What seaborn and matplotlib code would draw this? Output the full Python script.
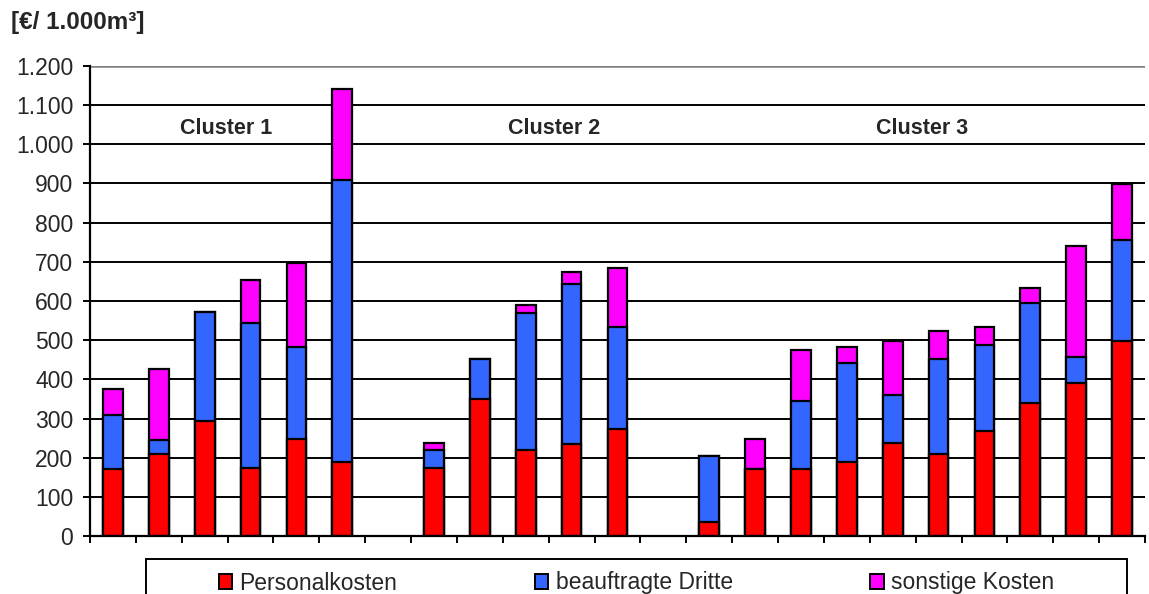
import pandas as pd
import matplotlib.pyplot as plt
import seaborn as sns
from matplotlib.patches import Rectangle, Patch
from matplotlib.ticker import FuncFormatter

sns.set_style("white")
plt.rcParams['font.family'] = ['Liberation Sans', 'DejaVu Sans']

# Werte je Cluster [€/1.000m³]
c1_personal = [170, 210, 293, 174, 247, 190]
c1_dritte = [138, 36, 279, 370, 235, 720]
c1_sonstige = [67, 181, 0, 109, 216, 231]

c2_personal = [174, 349, 220, 236, 272]
c2_dritte = [46, 103, 350, 407, 262]
c2_sonstige = [17, 0, 21, 30, 149]

c3_personal = [36, 170, 170, 190, 237, 210, 267, 340, 390, 499]
c3_dritte = [169, 0, 175, 251, 123, 242, 221, 256, 67, 257]
c3_sonstige = [0, 77, 129, 41, 139, 72, 46, 36, 283, 142]

cluster_names = ['Cluster 1', 'Cluster 2', 'Cluster 3']
serien = ['Personalkosten', 'beauftragte Dritte', 'sonstige Kosten']
farben = ['#FF0000', '#3366FF', '#FF00FF']

# Slots: Cluster 1, Lücke, Cluster 2, Lücke, Cluster 3
cluster_data = [
    (c1_personal, c1_dritte, c1_sonstige),
    (c2_personal, c2_dritte, c2_sonstige),
    (c3_personal, c3_dritte, c3_sonstige),
]
rows = []
slot = 0
order = []
for i, (p, d, s) in enumerate(cluster_data):
    for k in range(len(p)):
        rows.append({'slot': str(slot), 'cluster': cluster_names[i],
                     'Personalkosten': p[k], 'beauftragte Dritte': d[k],
                     'sonstige Kosten': s[k]})
        order.append(str(slot))
        slot += 1
    if i < len(cluster_data) - 1:
        order.append(str(slot))  # leerer Platz
        slot += 1
df = pd.DataFrame(rows)
df['h1'] = df['Personalkosten']
df['h2'] = df['h1'] + df['beauftragte Dritte']
df['h3'] = df['h2'] + df['sonstige Kosten']

fig = plt.figure(figsize=(11.49, 5.94), dpi=100)
ax = fig.add_axes([90 / 1149, 1 - 536 / 594, 1055 / 1149, 470 / 594])

# Gitterlinien
for v in range(100, 1200, 100):
    ax.axhline(v, color='black', lw=1.4, zorder=0)
ax.axhline(1200, color='#808080', lw=1.8, zorder=0)

# gestapelte Balken (von hinten nach vorne)
for col, farbe in zip(['h3', 'h2', 'h1'], farben[::-1]):
    sns.barplot(data=df, x='slot', y=col, order=order, color=farbe,
                saturation=1, errorbar=None, width=0.43,
                edgecolor='black', linewidth=1.6, ax=ax, zorder=2)

ax.set_xlim(-0.5, len(order) - 0.5)
ax.set_ylim(0, 1200)
ax.set_yticks(range(0, 1201, 100))
ax.yaxis.set_major_formatter(FuncFormatter(lambda v, _: f'{int(v):,}'.replace(',', '.')))
ax.set_xticks([i - 0.5 for i in range(len(order) + 1)])
ax.set_xticklabels([])
ax.set_xlabel('')
ax.set_ylabel('')
ax.tick_params(axis='y', direction='out', length=5, width=1.4, pad=7,
               labelsize=16.5, left=True, color='black')
ax.tick_params(axis='x', direction='out', length=5, width=1.4, bottom=True,
               color='black')
for side in ['top', 'right']:
    ax.spines[side].set_visible(False)
for side in ['left', 'bottom']:
    ax.spines[side].set_color('black')
    ax.spines[side].set_linewidth(1.6)

# Cluster-Beschriftungen
for name, xpos in zip(cluster_names, [2.46, 9.62, 17.64]):
    ax.text(xpos, 1040, name, ha='center', va='center', fontsize=15.5,
            fontweight='bold', zorder=3)

fig.text(11 / 1149, 1 - 22 / 594, '[€/ 1.000m³]', fontsize=17.5, fontweight='bold',
         ha='left', va='center')

# Legende
handles = [Patch(facecolor=f, edgecolor='black', linewidth=1.4) for f in farben]
fig.legend(handles, serien, loc='center', bbox_to_anchor=(636.5 / 1149, 1 - 583 / 594),
           ncol=3, frameon=False, fontsize=16.5, handlelength=0.58, handleheight=0.65,
           handletextpad=0.33, columnspacing=6.0)
fig.patches.append(Rectangle((146 / 1149, -0.05), 981 / 1149, 0.05 + 1 - 559 / 594,
                             transform=fig.transFigure, fill=False,
                             edgecolor='black', linewidth=1.4))

fig.savefig('out.png', dpi=100)
